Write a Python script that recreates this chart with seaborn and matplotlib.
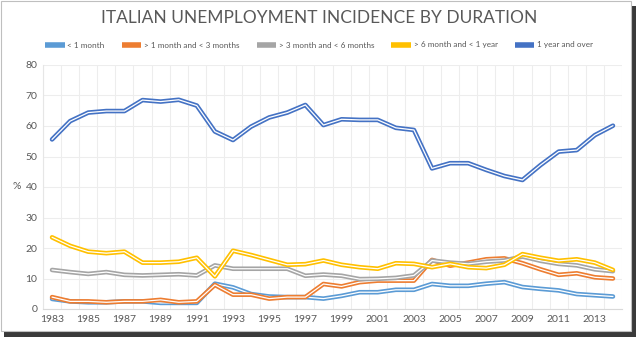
import numpy as np
import pandas as pd
import matplotlib
matplotlib.use("Agg")
import matplotlib.pyplot as plt
import matplotlib.patheffects as pe
from matplotlib.lines import Line2D
from matplotlib.patches import Rectangle
import seaborn as sns

years = list(range(1983, 2015))
lt_1m = [3.3, 2.5, 2.2, 2.2, 2.5, 2.5, 2.0, 2.0, 2.0, 8.3, 7.1, 4.9, 4.1, 3.9, 3.9, 3.4,
         4.3, 5.5, 5.5, 6.3, 6.3, 8.2, 7.6, 7.6, 8.3, 8.8, 7.2, 6.6, 6.1, 4.9, 4.5, 4.1]
m1_3 = [3.9, 2.5, 2.5, 2.2, 2.5, 2.5, 3.0, 2.2, 2.5, 7.9, 4.7, 4.7, 3.4, 3.9, 3.9, 8.2,
        7.4, 8.8, 9.3, 9.3, 9.3, 16.1, 14.2, 15.2, 16.3, 16.6, 15.0, 13.0, 11.2, 11.7, 10.4, 10.0]
m3_6 = [12.8, 12.1, 11.5, 12.1, 11.2, 11.0, 11.2, 11.4, 11.0, 14.3, 13.2, 13.2, 13.2, 13.2, 10.9, 11.3,
        10.9, 9.8, 9.9, 10.2, 11.0, 15.9, 15.2, 14.8, 15.5, 15.9, 17.2, 15.8, 14.8, 14.3, 13.0, 12.4]
m6_12 = [23.5, 20.7, 18.8, 18.3, 18.8, 15.2, 15.2, 15.5, 16.8, 10.7, 19.1, 17.7, 16.1, 14.5, 14.7, 15.9,
         14.5, 13.7, 13.2, 15.0, 14.8, 13.7, 14.8, 13.7, 13.4, 14.5, 18.0, 16.8, 15.8, 16.3, 15.2, 12.8]
y1_over = [55.6, 61.6, 64.4, 64.9, 64.9, 68.5, 68.0, 68.6, 66.7, 58.2, 55.4, 59.8, 62.8, 64.4, 66.9, 60.3,
           62.2, 62.0, 62.0, 59.4, 58.7, 46.1, 47.8, 47.8, 45.6, 43.6, 42.3, 47.2, 51.6, 52.1, 57.0, 60.1]

series_names = ["< 1 month", "> 1 month and < 3 months", "> 3 month and < 6 months",
                "> 6 month and < 1 year", "1 year and over"]
series_vals = [lt_1m, m1_3, m3_6, m6_12, y1_over]
colors = ["#5B9BD5", "#ED7D31", "#A5A5A5", "#FFC000", "#4472C4"]
xtick_labels = [str(y) for y in range(1983, 2015, 2)]
ytick_vals = [0, 10, 20, 30, 40, 50, 60, 70, 80]

sns.set_theme(style="white")
plt.rcParams['font.family'] = ['Lato', 'DejaVu Sans']
txt = "#595959"

fig = plt.figure(figsize=(6.38, 3.37), dpi=100)
# outer frame with shadow
fig.patches.append(Rectangle((4/638, 0/337), 632/638, 331/337, transform=fig.transFigure,
                             facecolor="#3a3a3a", edgecolor="none", zorder=-2))
fig.patches.append(Rectangle((1/638, 6/337), 630/638, 330/337, transform=fig.transFigure,
                             facecolor="white", edgecolor="#BFBFBF", linewidth=0.8, zorder=-1))

ax = fig.add_axes([43/638, 1 - 309/337, (622 - 43)/638, (309 - 65)/337])
ax.set_facecolor("none")
ax.set_zorder(2)

for name, vals, c in zip(series_names, series_vals, colors):
    d = pd.DataFrame({"year": years, "value": vals})
    sns.lineplot(data=d, x="year", y="value", ax=ax, color="white", linewidth=0.9,
                 path_effects=[pe.Stroke(linewidth=3.3, foreground=c), pe.Normal()],
                 zorder=3)

ax.set_xlim(1982.5, 2014.5)
ax.set_ylim(0, 80)
ax.set_xticks(range(1983, 2015, 2))
ax.set_xticklabels(xtick_labels)
ax.set_xticks(np.arange(1982.5, 2015, 1), minor=True)
ax.set_yticks(ytick_vals)
ax.grid(False)
ax.grid(axis="x", which="minor", color="#EDEDED", linewidth=0.8)
ax.grid(axis="y", which="major", color="#EDEDED", linewidth=0.8)
ax.tick_params(axis="both", which="both", length=0, labelsize=7.5, colors=txt, pad=4)
for s in ["top", "right"]:
    ax.spines[s].set_visible(False)
ax.spines["left"].set_color("#E6E6E6")
ax.spines["bottom"].set_color("#D9D9D9")
ax.spines["left"].set_linewidth(0.8)
ax.spines["bottom"].set_linewidth(0.8)
ax.set_xlabel("")
ax.set_ylabel("")
fig.text(17/638, 1 - 187/337, "%", ha="center", va="center", fontsize=7.5, color=txt)

fig.text(0.5, 1 - 18/337, "ITALIAN UNEMPLOYMENT INCIDENCE BY DURATION", ha="center", va="center",
         fontsize=12.5, color=txt, fontweight="normal")

handles = [Line2D([0], [0], color=c, linewidth=4, solid_capstyle="butt") for c in colors]
fig.legend(handles, series_names, loc="center", bbox_to_anchor=(0.5, 1 - 45/337), ncol=5,
           frameon=False, fontsize=5.9, labelcolor=txt, handlelength=2.4, handletextpad=0.3,
           columnspacing=2.1)

fig.savefig("out.png", dpi=100)
